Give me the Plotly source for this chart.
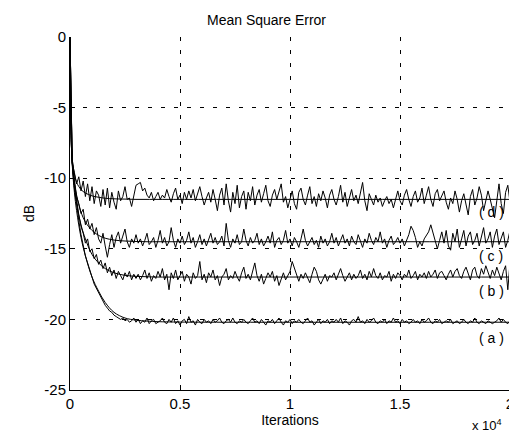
import plotly.graph_objects as go

# ---------------- data ----------------
step = 100  # iterations between samples of the noisy curves

noisy_a = [0.0,
    -8.9, -10.6, -12.0, -13.0, -14.0, -14.8, -15.5, -16.0, -16.6, -17.0,
    -17.5, -17.8, -18.1, -18.5, -18.7, -19.0, -19.2, -19.4, -19.5, -19.7,
    -19.8, -19.9, -20.0, -19.9, -20.1, -20.0, -20.2, -20.1, -19.9, -20.2,
    -20.0, -20.3, -20.1, -20.2, -19.9, -20.3, -20.1, -20.0, -20.3, -20.2,
    -20.1, -19.9, -20.2, -20.3, -20.0, -20.2, -19.9, -20.3, -20.1, -20.4,
    -20.1, -20.0, -20.3, -19.8, -20.2, -20.1, -20.4, -20.0, -20.2, -20.3,
    -20.0, -20.2, -20.1, -20.3, -20.0, -20.2, -20.1, -19.9, -20.2, -20.3,
    -20.1, -20.0, -20.2, -19.9, -20.2, -20.3, -20.1, -20.2, -20.0, -20.2,
    -20.3, -20.1, -19.9, -20.2, -20.1, -20.3, -20.0, -20.2, -20.4, -20.1,
    -20.2, -20.0, -20.3, -20.1, -19.9, -20.2, -20.4, -20.1, -20.2, -20.0,
    -20.3, -20.1, -20.2, -20.0, -20.2, -20.3, -20.1, -19.9, -20.2, -20.1,
    -20.4, -20.2, -20.0, -20.3, -20.1, -20.2, -20.0, -20.3, -20.1, -20.2,
    -20.0, -20.2, -19.9, -20.3, -20.1, -20.2, -20.4, -20.1, -20.0, -20.2,
    -19.8, -20.2, -20.1, -20.3, -20.0, -20.2, -20.1, -19.9, -20.2, -20.3,
    -20.1, -20.2, -20.0, -20.3, -20.1, -20.2, -19.9, -20.2, -20.1, -20.3,
    -20.0, -20.2, -20.1, -20.3, -20.2, -20.0, -20.2, -20.1, -20.3, -20.0,
    -20.2, -20.1, -19.9, -20.2, -20.3, -20.1, -20.2, -20.0, -20.3, -20.2,
    -20.1, -20.2, -20.0, -20.3, -20.2, -20.1, -20.3, -20.2, -20.0, -20.2,
    -20.3, -20.1, -20.2, -19.9, -20.2, -20.3, -20.1, -20.2, -20.3, -20.1,
    -20.2, -20.3, -20.2, -20.1, -19.9, -20.2, -20.0, -20.2, -20.3, -20.1]

noisy_b = [0.0,
    -8.8, -10.4, -11.6, -12.6, -13.4, -13.9, -14.6, -14.3, -15.2, -15.0,
    -15.7, -15.4, -16.1, -15.8, -16.4, -16.0, -16.7, -16.3, -16.9, -16.5,
    -17.1, -16.6, -16.9, -17.2, -16.7, -17.0, -16.6, -17.2, -16.8, -17.1,
    -16.8, -17.2, -16.9, -16.5, -17.1, -16.7, -17.3, -16.9, -17.1, -16.6,
    -17.0, -16.4, -17.2, -16.8, -17.9, -16.7, -17.1, -16.5, -17.2, -16.9,
    -16.6, -17.3, -16.8, -17.0, -17.5, -16.7, -17.1, -16.9, -15.9, -17.2,
    -16.8, -17.4, -16.7, -17.0, -16.5, -17.2, -16.9, -17.6, -17.0, -16.8,
    -16.4, -17.2, -16.9, -17.1, -16.6, -17.0, -17.3, -16.7, -16.3, -17.1,
    -16.8, -17.2, -16.5, -16.0, -16.9, -17.3, -16.8, -17.5, -17.1, -16.7,
    -17.0, -16.6, -17.3, -16.9, -17.6, -17.1, -16.7, -17.2, -16.9, -16.6,
    -15.9, -16.4, -16.9, -17.3, -16.8, -17.1, -16.7, -17.0, -17.4, -16.8,
    -16.3, -16.6, -17.2, -17.5, -17.1, -16.8, -17.3, -16.9, -17.0, -16.7,
    -17.2, -16.8, -16.4, -16.9, -17.3, -17.0, -16.7, -17.2, -16.8, -17.1,
    -16.9, -16.5, -17.1, -16.8, -17.2, -16.6, -17.0, -16.4, -16.9, -17.1,
    -16.7, -17.2, -16.9, -17.0, -16.6, -17.3, -16.8, -17.1, -16.7, -16.9,
    -17.2, -16.8, -17.0, -16.5, -17.1, -16.9, -16.6, -17.2, -16.8, -17.0,
    -16.7, -17.1, -16.6, -17.0, -16.8, -16.5, -17.1, -16.7, -16.6, -16.9,
    -17.2, -16.8, -16.5, -17.0, -16.6, -16.4, -16.9, -17.1, -16.6, -16.3,
    -16.8, -17.2, -16.5, -16.3, -16.9, -17.1, -16.4, -16.8, -16.2, -16.7,
    -17.1, -16.5, -16.9, -16.3, -16.8, -17.2, -16.6, -16.2, -17.9, -16.0]

noisy_c = [0.0,
    -8.6, -10.1, -11.3, -11.8, -12.5, -12.2, -13.3, -12.9, -13.6, -13.2,
    -14.0, -13.5, -14.3, -14.6, -13.9, -14.8, -15.6, -14.7, -14.0, -14.9,
    -14.2, -13.8, -14.6, -14.1, -13.6, -14.5, -14.9, -14.3, -14.6, -14.0,
    -14.6, -14.3, -14.8, -14.4, -13.9, -14.7, -14.5, -14.2, -14.9, -14.4,
    -13.7, -14.6, -14.2, -14.8, -14.5, -13.5, -14.4, -14.9, -14.3, -14.6,
    -14.1, -14.7, -14.4, -13.8, -14.6, -14.2, -14.9, -14.5, -14.0, -14.7,
    -14.3, -14.8, -14.4, -13.9, -14.6, -14.2, -14.7, -14.5, -14.1, -14.8,
    -13.2, -14.4, -14.9, -14.3, -14.6, -14.0, -14.7, -14.5, -13.6, -14.4,
    -14.8, -14.2, -14.6, -14.4, -13.9, -14.7, -14.3, -14.8, -14.5, -14.1,
    -14.6, -13.8, -14.9, -14.4, -14.2, -14.7, -14.4, -13.7, -14.6, -14.3,
    -14.8, -14.2, -14.5, -14.9, -14.3, -13.6, -14.4, -14.8, -14.5, -14.2,
    -14.7, -14.4, -14.9, -14.1, -14.6, -14.3, -14.8, -14.5, -13.9, -14.6,
    -14.2, -14.8, -14.4, -14.0, -14.6, -14.3, -14.8, -14.1, -14.5, -14.7,
    -14.0, -14.5, -14.9, -14.3, -14.6, -13.9, -14.4, -14.7, -14.2, -14.5,
    -13.8, -14.6, -14.3, -14.9, -14.4, -14.1, -14.7, -14.5, -14.2, -14.6,
    -14.3, -14.8, -14.4, -14.0, -13.4, -13.7, -14.2, -14.9, -14.5, -14.8,
    -14.3, -14.0, -13.8, -13.3, -13.9, -14.6, -15.0, -14.4, -13.8, -14.6,
    -13.7, -14.8, -15.1, -13.9, -14.5, -13.6, -14.9, -14.3, -13.7, -14.8,
    -14.1, -13.8, -14.7, -14.4, -13.9, -14.8, -14.2, -13.5, -14.6, -14.3,
    -13.8, -14.9, -14.1, -13.6, -14.7, -14.2, -13.8, -14.9, -14.4, -13.7]

noisy_d = [0.0,
    -8.9, -9.6, -10.4, -9.9, -10.9, -10.2, -11.3, -10.4, -11.6, -10.6,
    -11.8, -10.9, -11.2, -12.0, -10.8, -11.9, -10.7, -12.1, -11.0, -11.7,
    -12.2, -10.9, -11.6, -11.3, -10.6, -11.5, -11.4, -12.0, -11.1, -10.5,
    -10.4, -10.3, -10.9, -10.7, -11.2, -11.4, -11.0, -11.6, -11.3, -11.0,
    -11.5, -11.2, -11.4, -10.8, -11.3, -11.7, -11.1, -10.7, -11.5, -11.2,
    -11.8, -11.0, -11.5, -10.9, -11.4, -10.8, -11.6, -11.1, -10.6, -11.3,
    -11.9, -11.4, -11.0, -11.7, -10.8, -11.5, -12.3, -11.2, -10.7, -11.9,
    -10.4, -11.6, -12.4, -11.0, -11.8, -10.5, -12.1, -11.3, -10.9, -12.2,
    -11.0, -11.6, -10.6, -11.9, -11.2, -10.8, -11.7, -11.1, -10.5, -11.6,
    -12.0, -11.2, -10.8, -11.5, -11.0, -10.4, -11.7, -11.3, -12.1, -11.5,
    -10.9, -11.8, -12.2, -11.0, -10.7, -11.5, -11.9, -11.2, -10.6, -11.8,
    -11.3, -12.0, -11.1, -11.6, -10.9, -11.4, -12.1, -11.2, -10.8, -11.5,
    -11.9, -11.3, -10.5, -11.7, -11.0, -12.0, -11.4, -10.8, -11.6, -11.2,
    -11.8, -11.0, -10.3, -11.6, -12.3, -11.1, -11.5, -11.9, -11.2, -11.7,
    -11.4, -12.0, -11.6, -11.3, -11.8, -11.5, -12.1, -11.4, -10.9, -11.6,
    -11.9, -11.2, -10.8, -11.5, -12.0, -11.3, -10.9, -11.7, -11.4, -10.7,
    -11.8, -11.2, -10.6, -11.5, -12.0, -11.1, -10.8, -11.6, -11.3, -10.9,
    -11.7, -12.2, -11.4, -11.8, -10.9, -11.5, -12.4, -11.6, -11.1, -12.0,
    -12.6, -11.3, -10.8, -11.9, -11.4, -10.6, -11.2, -12.3, -11.7, -10.9,
    -11.5, -12.1, -12.8, -11.6, -10.4, -11.8, -12.5, -11.0, -10.5, -11.7]

# theoretical (smooth) curves
theory_iter = [0, 20, 50, 100, 200, 300, 500, 700, 1000, 1300, 1600, 2000,
               2500, 3000, 3500, 4000, 5000, 7000, 20000]
theory_a = [0, -4.0, -7.0, -9.0, -11.0, -12.3, -14.2, -15.5, -17.0, -18.0,
            -18.8, -19.5, -19.9, -20.05, -20.12, -20.16, -20.19, -20.2, -20.2]
theory_b = [0, -4.0, -7.0, -8.9, -10.7, -11.8, -13.3, -14.3, -15.4, -16.0,
            -16.4, -16.7, -16.88, -16.95, -16.98, -17.0, -17.0, -17.0, -17.0]
theory_c = [0, -4.0, -7.0, -8.8, -10.3, -11.2, -12.4, -13.1, -13.7, -14.05,
            -14.25, -14.38, -14.45, -14.48, -14.5, -14.5, -14.5, -14.5, -14.5]
theory_d = [0, -4.0, -7.0, -8.6, -9.7, -10.3, -10.8, -11.05, -11.25, -11.35,
            -11.42, -11.46, -11.48, -11.5, -11.5, -11.5, -11.5, -11.5, -11.5]

curve_labels = ["( a )", "( b )", "( c )", "( d )"]
x_tick_vals = [0, 5000, 10000, 15000, 20000]
x_tick_text = ["0", "0.5", "1", "1.5", "2"]
y_tick_vals = [-25, -20, -15, -10, -5, 0]
y_tick_text = ["-25", "-20", "-15", "-10", "-5", "0"]

# ---------------- figure ----------------
FONT = "Liberation Sans, Arial, sans-serif"
fig = go.Figure()

for ys in (noisy_a, noisy_b, noisy_c, noisy_d):
    fig.add_trace(go.Scatter(
        x=[i * step for i in range(len(ys))], y=ys, mode="lines",
        line=dict(color="black", width=1), showlegend=False, hoverinfo="skip"))

for ys in (theory_a, theory_b, theory_c, theory_d):
    fig.add_trace(go.Scatter(
        x=theory_iter, y=ys, mode="lines", line_shape="spline",
        line=dict(color="black", width=1), showlegend=False, hoverinfo="skip"))

label_pos = [(19150, -21.3), (19150, -18.0), (19150, -15.5), (19150, -12.4)]
for txt, (lx, ly) in zip(curve_labels, label_pos):
    fig.add_annotation(x=lx, y=ly, text=txt, showarrow=False,
                       font=dict(family=FONT, size=14, color="black"))

fig.add_annotation(xref="paper", yref="paper", x=0.987, y=-0.098,
                   xanchor="right", yanchor="middle", showarrow=False,
                   text="x 10<sup>4</sup>",
                   font=dict(family=FONT, size=13, color="black"))

grid_style = dict(showgrid=True, gridcolor="black", gridwidth=1,
                  griddash="4px,9px")

fig.update_xaxes(range=[0, 20000], tickvals=x_tick_vals, ticktext=x_tick_text,
                 showline=True, linecolor="black", linewidth=1,
                 ticks="inside", ticklen=5, tickcolor="black",
                 zeroline=False, mirror=False,
                 title=dict(text="Iterations", standoff=4,
                            font=dict(family=FONT, size=14, color="black")),
                 tickfont=dict(family=FONT, size=15, color="black"),
                 **grid_style)
fig.update_yaxes(range=[-25, 0], tickvals=y_tick_vals, ticktext=y_tick_text,
                 showline=True, linecolor="black", linewidth=1,
                 ticks="inside", ticklen=5, tickcolor="black",
                 zeroline=False, mirror=False,
                 title=dict(text="dB", standoff=6,
                            font=dict(family=FONT, size=14, color="black")),
                 tickfont=dict(family=FONT, size=15, color="black"),
                 **grid_style)

fig.update_layout(
    width=517, height=433,
    margin=dict(l=62, r=11, t=29, b=51),
    paper_bgcolor="white", plot_bgcolor="white",
    title=dict(text="Mean Square Error", x=0.5, xanchor="center",
               y=1 - 12 / 433, yanchor="middle",
               font=dict(family=FONT, size=14, color="black")),
    font=dict(family=FONT, color="black"),
)

fig.write_html("out.html")
